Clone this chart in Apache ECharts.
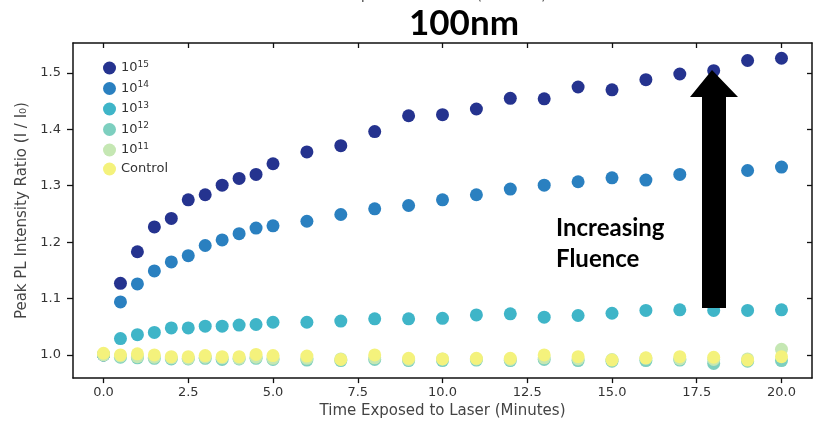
<!DOCTYPE html>
<html>
<head>
<meta charset="utf-8">
<script src="https://cdn.jsdelivr.net/npm/echarts@6/dist/echarts.min.js"></script>
<style>
	html, body { margin: 0; padding: 0; background: #fff; }
	#chart { width: 815px; height: 424px; }
</style>
</head>
<body>
<div id="chart"></div>
<script>
	// time points (minutes)
	var times = [0, 0.5, 1, 1.5, 2, 2.5, 3, 3.5, 4, 4.5, 5, 6, 7, 8, 9, 10, 11, 12, 13, 14, 15, 16, 17, 18, 19, 20]

	var f15 = [1.0, 1.127, 1.183, 1.227, 1.242, 1.275, 1.284, 1.301, 1.313, 1.320, 1.339, 1.360, 1.371, 1.396, 1.424, 1.426, 1.436, 1.455, 1.454, 1.475, 1.470, 1.488, 1.498, 1.504, 1.522, 1.526]
	var f14 = [1.0, 1.094, 1.126, 1.149, 1.165, 1.176, 1.194, 1.204, 1.215, 1.225, 1.229, 1.237, 1.249, 1.259, 1.265, 1.275, 1.284, 1.294, 1.301, 1.307, 1.314, 1.310, 1.320, 1.322, 1.327, 1.333]
	var f13 = [1.0, 1.029, 1.036, 1.040, 1.048, 1.048, 1.051, 1.051, 1.053, 1.054, 1.058, 1.058, 1.060, 1.064, 1.064, 1.065, 1.071, 1.073, 1.067, 1.070, 1.074, 1.079, 1.080, 1.079, 1.079, 1.080]
	var f12 = [1.0, 0.996, 0.995, 0.994, 0.993, 0.993, 0.994, 0.992, 0.993, 0.994, 0.992, 0.991, 0.990, 0.992, 0.990, 0.990, 0.991, 0.990, 0.992, 0.990, 0.989, 0.990, 0.991, 0.985, 0.989, 0.990]
	var f11 = [1.0, 0.998, 0.997, 0.996, 0.995, 0.994, 0.996, 0.995, 0.994, 0.996, 0.994, 0.994, 0.993, 0.995, 0.992, 0.993, 0.993, 0.992, 0.995, 0.993, 0.992, 0.994, 0.993, 0.992, 0.993, 1.010]
	var ctrl = [1.003, 1.000, 1.002, 1.000, 0.997, 0.997, 0.999, 0.997, 0.997, 1.001, 0.999, 0.998, 0.992, 1.000, 0.994, 0.993, 0.994, 0.994, 1.000, 0.997, 0.991, 0.995, 0.997, 0.996, 0.991, 0.997]

	var seriesNames = ['10^15', '10^14', '10^13', '10^12', '10^11', 'Control']
	var seriesData = [f15, f14, f13, f12, f11, ctrl]
	var colors = ['#25338f', '#2a80c0', '#3fb5c8', '#7dcfbf', '#c5e7b3', '#f4f27c']

	var xTicks = [0, 2.5, 5, 7.5, 10, 12.5, 15, 17.5, 20]
	var yTicks = [1.0, 1.1, 1.2, 1.3, 1.4, 1.5]

	var chart = echarts.init(document.getElementById('chart'))
	var font = 'DejaVu Sans'

	var series = seriesNames.map(function(name, i) {
		return {
			name: name,
			type: 'scatter',
			symbol: 'circle',
			symbolSize: 13,
			itemStyle: { color: colors[i], opacity: 1 },
			data: times.map(function(t, j) { return [t, seriesData[i][j]] }),
			z: 2 + i
		}
	})

	var frameLine = { show: true, onZero: false, lineStyle: { color: '#111', width: 1.5 } }

	chart.setOption({
		animation: false,
		backgroundColor: '#fff',
		grid: { left: 73, right: 3, top: 43, bottom: 41 },
		legend: {
			orient: 'vertical',
			left: 103,
			top: 60,
			padding: 0,
			itemWidth: 13,
			itemHeight: 13,
			itemGap: 6,
			itemTextGap: 21,
			icon: 'circle',
			data: seriesNames,
			formatter: function(name) {
				if (name.indexOf('^') > 0) {
					var p = name.split('^')
					return '{b|' + p[0] + '}{s|' + p[1] + '}'
				}
				return '{b|' + name + '}'
			},
			textStyle: {
				rich: {
					b: { fontFamily: font, fontSize: 13, color: '#333' },
					s: { fontFamily: font, fontSize: 9, color: '#333', padding: [0, 0, 7, 0] }
				}
			}
		},
		xAxis: [{
			type: 'value',
			min: -0.9,
			max: 20.9,
			axisLine: frameLine,
			axisTick: { show: true, inside: false, length: 5, customValues: xTicks, lineStyle: { color: '#111', width: 1.3 } },
			axisLabel: { customValues: xTicks, margin: 8, fontFamily: font, fontSize: 13, color: '#333',
				formatter: function(v) { return v.toFixed(1) } },
			splitLine: { show: false },
			name: 'Time Exposed to Laser (Minutes)',
			nameLocation: 'middle',
			nameGap: 22,
			nameTextStyle: { fontFamily: font, fontSize: 15, color: '#444' }
		}, {
			type: 'value',
			position: 'top',
			min: -0.9,
			max: 20.9,
			axisLine: frameLine,
			axisTick: { show: true, inside: true, length: 5, customValues: xTicks, lineStyle: { color: '#111', width: 1.3 } },
			axisLabel: { show: false },
			splitLine: { show: false }
		}],
		yAxis: [{
			type: 'value',
			min: 0.959,
			max: 1.553,
			axisLine: frameLine,
			axisTick: { show: true, inside: false, length: 6, customValues: yTicks, lineStyle: { color: '#111', width: 1.3 } },
			axisLabel: { customValues: yTicks, margin: 12, fontFamily: font, fontSize: 13, color: '#333',
				formatter: function(v) { return v.toFixed(1) } },
			splitLine: { show: false },
			name: 'Peak PL Intensity Ratio (I / I\u2080)',
			nameLocation: 'middle',
			nameGap: 42,
			nameTextStyle: { fontFamily: font, fontSize: 15, color: '#444' }
		}, {
			type: 'value',
			position: 'right',
			min: 0.959,
			max: 1.553,
			axisLine: frameLine,
			axisTick: { show: true, inside: true, length: 5, customValues: yTicks, lineStyle: { color: '#111', width: 1.3 } },
			axisLabel: { show: false },
			splitLine: { show: false }
		}],
		series: series,
		graphic: [
			{ // clipped label at the very top
				type: 'text', left: 301, top: -12, z: 10,
				style: { text: 'Time Exposed to Laser (Minutes)', font: '15px "DejaVu Sans"', fill: '#555' }
			},
			{
				type: 'text', x: 464, y: 24, z: 10,
				style: { text: '100nm', font: 'bold 35px Lato', fill: '#000', align: 'center', verticalAlign: 'middle' }
			},
			{
				type: 'text', x: 556, y: 228, z: 10,
				style: { text: 'Increasing', font: 'bold 24px Lato', fill: '#000', verticalAlign: 'middle' }
			},
			{
				type: 'text', x: 556, y: 259, z: 10,
				style: { text: 'Fluence', font: 'bold 24px Lato', fill: '#000', verticalAlign: 'middle' }
			},
			{ // arrow
				type: 'polygon', z: 20,
				shape: { points: [[702, 308], [726, 308], [726, 97], [738, 97], [712, 70], [690, 97], [702, 97]] },
				style: { fill: '#000' }
			}
		]
	})
</script>
</body>
</html>
